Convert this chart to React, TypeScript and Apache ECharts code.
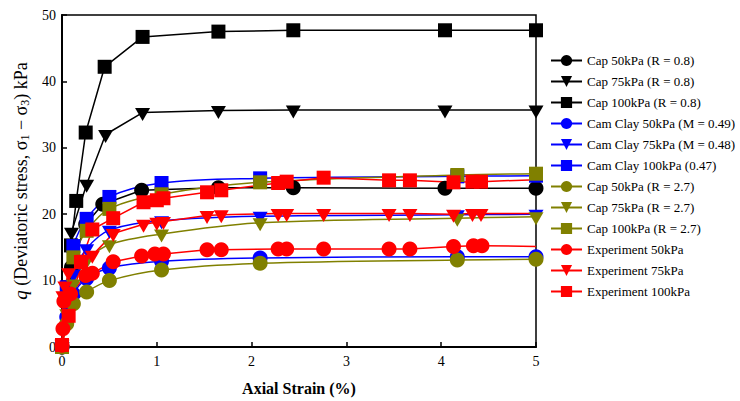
import { useEffect, useRef } from "react";
import * as echarts from "echarts";

const FONT = "Liberation Serif";

// Cap model (R = 0.8)
const cap50R08Strain = [0, 0.1, 0.25, 0.43, 0.84, 1.65, 2.44, 4.04, 5];
const cap50R08 = [0, 12, 18.5, 21.5, 23.6, 24, 24, 23.9, 23.9];
const cap75R08Strain = [0, 0.1, 0.26, 0.46, 0.85, 1.65, 2.44, 4.04, 5];
const cap75R08 = [0, 17.3, 24.5, 32, 35.3, 35.6, 35.7, 35.7, 35.7];
const cap100R08Strain = [0, 0.095, 0.15, 0.25, 0.45, 0.85, 1.65, 2.44, 4.04, 5];
const cap100R08 = [0, 15.3, 22, 32.3, 42.2, 46.7, 47.5, 47.7, 47.7, 47.7];

// Cam Clay and Cap (R = 2.7) share strains
const modelStrain = [0, 0.05, 0.12, 0.26, 0.5, 1.05, 2.09, 4.17, 5];
const camClay50 = [0, 4.5, 8, 10.3, 11.9, 12.9, 13.4, 13.6, 13.6];
const camClay75 = [0, 6, 11, 14.8, 17.6, 19, 19.7, 19.9, 20];
const camClay100 = [0, 9, 15.2, 19.3, 22.6, 24.7, 25.4, 25.7, 25.8];
const cap50R27 = [0, 3.5, 6.5, 8.3, 10, 11.6, 12.6, 13.1, 13.2];
const cap75R27 = [0, 5, 9.5, 13, 15.4, 17, 18.7, 19.4, 19.6];
const cap100R27 = [0, 7, 13.5, 17.5, 20.8, 23, 24.8, 25.9, 26.1];

// Experiments (last value: curve end without marker)
const exp50Strain = [0, 0.01, 0.02, 0.09, 0.25, 0.32, 0.54, 0.84, 0.98, 1.07, 1.53, 1.68, 2.28, 2.37, 2.76, 3.45, 3.67, 4.13, 4.34, 4.43, 5];
const exp50 = [0.25, 2.75, 6.9, 8.0, 10.75, 11.1, 12.85, 13.7, 14.0, 14.0, 14.65, 14.65, 14.75, 14.75, 14.75, 14.75, 14.75, 15.15, 15.25, 15.25, 15.15];
const exp75Strain = [0, 0.01, 0.03, 0.07, 0.23, 0.32, 0.54, 0.86, 1.0, 1.07, 1.53, 1.68, 2.28, 2.37, 2.76, 3.45, 3.67, 4.13, 4.33, 4.42, 5];
const exp75 = [0.4, 7.7, 9.2, 11.2, 13.2, 13.8, 17.1, 18.5, 18.8, 18.9, 19.8, 19.9, 20.1, 20.1, 20.1, 20.1, 20.1, 20.0, 20.1, 20.1, 20.1];
const exp100Strain = [0, 0.07, 0.2, 0.32, 0.54, 0.86, 1.0, 1.07, 1.53, 1.68, 2.28, 2.37, 2.76, 3.45, 3.67, 4.13, 4.33, 4.42, 5];
const exp100 = [0.3, 4.7, 12.8, 17.7, 19.4, 21.8, 22.1, 22.4, 23.3, 23.6, 24.7, 24.9, 25.5, 25.1, 25.1, 24.8, 24.9, 24.9, 25.2];

const BLACK = "#000000";
const BLUE = "#0000ff";
const OLIVE = "#808000";
const RED = "#ff0000";

type Kind = "circle" | "tri" | "rect";

function makeSeries(
  name: string,
  xs: number[],
  ys: number[],
  color: string,
  kind: Kind,
  smooth: boolean,
  lastNoMarker = false
) {
  const data = xs.map((x, i) => {
    if (lastNoMarker && i === xs.length - 1) {
      return { value: [x, ys[i]], symbol: "none" };
    }
    return { value: [x, ys[i]] };
  });
  const isTri = kind === "tri";
  return {
    name,
    type: "line",
    data,
    smooth: smooth ? 0.35 : false,
    symbol: kind === "circle" ? "circle" : kind === "rect" ? "rect" : "triangle",
    symbolSize: isTri ? [15, 13] : kind === "rect" ? 14 : 15,
    symbolRotate: isTri ? 180 : 0,
    symbolOffset: isTri ? [0, 2] : [0, 0],
    showAllSymbol: true,
    lineStyle: { color, width: 1.5 },
    itemStyle: { color, opacity: 1 },
    emphasis: { disabled: true },
  };
}

export default function App() {
  const ref = useRef<HTMLDivElement>(null);
  useEffect(() => {
    if (!ref.current) return;
    const chart = echarts.init(ref.current, undefined, { renderer: "svg" });
    const series = [
      makeSeries("Cap 50kPa (R = 0.8)", cap50R08Strain, cap50R08, BLACK, "circle", false),
      makeSeries("Cap 75kPa (R = 0.8)", cap75R08Strain, cap75R08, BLACK, "tri", false),
      makeSeries("Cap 100kPa (R = 0.8)", cap100R08Strain, cap100R08, BLACK, "rect", false),
      makeSeries("Cam Clay 50kPa (M = 0.49)", modelStrain, camClay50, BLUE, "circle", true),
      makeSeries("Cam Clay 75kPa (M = 0.48)", modelStrain, camClay75, BLUE, "tri", true),
      makeSeries("Cam Clay 100kPa (0.47)", modelStrain, camClay100, BLUE, "rect", true),
      makeSeries("Cap 50kPa (R = 2.7)", modelStrain, cap50R27, OLIVE, "circle", true),
      makeSeries("Cap 75kPa (R = 2.7)", modelStrain, cap75R27, OLIVE, "tri", true),
      makeSeries("Cap 100kPa (R = 2.7)", modelStrain, cap100R27, OLIVE, "rect", true),
      makeSeries("Experiment 50kPa", exp50Strain, exp50, RED, "circle", false, true),
      makeSeries("Experiment 75kPa", exp75Strain, exp75, RED, "tri", false, true),
      makeSeries("Experiment 100kPa", exp100Strain, exp100, RED, "rect", false, true),
    ];
    chart.setOption({
      animation: false,
      backgroundColor: "#ffffff",
      textStyle: { fontFamily: FONT, color: "#000" },
      grid: {
        left: 62,
        right: 204,
        top: 15,
        bottom: 53,
        show: true,
        borderColor: "#000",
        borderWidth: 1.5,
        containLabel: false,
      },
      legend: {
        orient: "vertical",
        left: 545,
        top: 49,
        itemWidth: 31,
        itemHeight: 14,
        itemGap: 8,
        selectedMode: false,
        textStyle: { fontFamily: FONT, fontSize: 13, color: "#000" },
        data: series.map((s) => s.name),
      },
      xAxis: {
        type: "value",
        min: 0,
        max: 5,
        interval: 1,
        name: "Axial Strain (%)",
        nameLocation: "middle",
        nameGap: 33,
        nameTextStyle: { fontFamily: FONT, fontSize: 16, fontWeight: "bold", color: "#000" },
        axisLine: { lineStyle: { color: "#000", width: 2 } },
        axisTick: { inside: true, length: 5, lineStyle: { color: "#000", width: 1.5 } },
        axisLabel: { fontFamily: FONT, fontSize: 14, color: "#000", margin: 7 },
        splitLine: { show: false },
      },
      yAxis: {
        type: "value",
        min: 0,
        max: 50,
        interval: 10,
        name: "{i|q} (Deviatoric stress, σ{s|1} − σ{s|3}) kPa",
        nameLocation: "middle",
        nameGap: 30,
        nameRotate: 90,
        nameTextStyle: {
          fontFamily: FONT,
          fontSize: 18,
          color: "#000",
          lineHeight: 21,
          rich: {
            i: { fontFamily: FONT, fontSize: 19, fontStyle: "italic", color: "#000", lineHeight: 21 },
            s: { fontFamily: FONT, fontSize: 12, color: "#000", verticalAlign: "bottom", lineHeight: 12 },
          },
        },
        axisLine: { lineStyle: { color: "#000", width: 2 } },
        axisTick: { inside: true, length: 5, lineStyle: { color: "#000", width: 1.5 } },
        axisLabel: { fontFamily: FONT, fontSize: 14, color: "#000", margin: 6 },
        splitLine: { show: false },
      },
      series,
    });
    return () => chart.dispose();
  }, []);
  return (
    <div
      ref={ref}
      style={{ position: "absolute", left: 0, top: 0, width: 740, height: 401, background: "#fff" }}
    />
  );
}
